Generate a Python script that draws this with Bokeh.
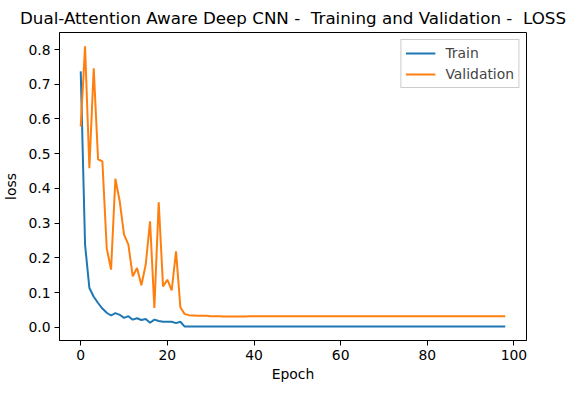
from bokeh.plotting import figure
from bokeh.models import Legend, LegendItem, Range1d, FixedTicker, NumeralTickFormatter
from bokeh.embed import file_html
from bokeh.resources import INLINE

train = [0.737, 0.238, 0.113, 0.088, 0.07, 0.054, 0.042, 0.034, 0.041, 0.036,
         0.027, 0.032, 0.022, 0.026, 0.021, 0.024, 0.013, 0.022, 0.018, 0.016,
         0.016, 0.016, 0.012, 0.016] + [0.002] * 75
validation = [0.578, 0.809, 0.458, 0.746, 0.484, 0.478, 0.228, 0.166, 0.428, 0.363,
              0.267, 0.238, 0.147, 0.171, 0.121, 0.18, 0.305, 0.056, 0.36, 0.118,
              0.137, 0.106, 0.219, 0.058, 0.038, 0.035, 0.034, 0.033, 0.033, 0.033,
              0.032, 0.032, 0.032, 0.031, 0.031, 0.031, 0.031, 0.031, 0.031, 0.032] + [0.032] * 59
epochs = list(range(len(train)))

x_ticks = [0, 20, 40, 60, 80, 100]
y_ticks = [0.0, 0.1, 0.2, 0.3, 0.4, 0.5, 0.6, 0.7, 0.8]

FONT = "DejaVu Sans"
FS = "13.9px"

p = figure(frame_width=467, frame_height=308, output_backend="svg", toolbar_location=None,
           x_range=Range1d(-4.9, 102.9), y_range=Range1d(-0.038, 0.849),
           min_border_left=52, min_border_right=40, min_border_top=24, min_border_bottom=45)

p.title.text = "Dual-Attention Aware Deep CNN -\u00a0 Training and Validation -\u00a0 LOSS"
p.title.align = "center"
p.title.text_font = FONT
p.title.text_font_size = "16.7px"
p.title.text_font_style = "normal"
p.title.text_color = "black"

p.grid.visible = False
p.outline_line_color = "black"
p.outline_line_width = 1

for ax in (p.xaxis[0], p.yaxis[0]):
    ax.major_label_text_font = FONT
    ax.major_label_text_font_size = FS
    ax.major_label_text_color = "black"
    ax.axis_label_text_font = FONT
    ax.axis_label_text_font_size = FS
    ax.axis_label_text_font_style = "normal"
    ax.axis_label_text_color = "black"
    ax.major_tick_out = 5
    ax.major_tick_in = 0
    ax.minor_tick_out = 0
    ax.minor_tick_in = 0
    ax.axis_line_color = "black"
    ax.major_tick_line_color = "black"
    ax.major_label_standoff = 4

p.xaxis.ticker = FixedTicker(ticks=x_ticks)
p.yaxis.ticker = FixedTicker(ticks=y_ticks)
p.yaxis.formatter = NumeralTickFormatter(format="0.0")
p.xaxis.axis_label = "Epoch"
p.yaxis.axis_label = "loss"
p.xaxis.axis_label_standoff = 3
p.yaxis.axis_label_standoff = 6

r1 = p.line(epochs, train, line_color="#1f77b4", line_width=2)
r2 = p.line(epochs, validation, line_color="#ff7f0e", line_width=2)

legend = Legend(items=[LegendItem(label="Train", renderers=[r1]),
                       LegendItem(label="Validation", renderers=[r2])],
                location="top_right")
legend.label_text_font = FONT
legend.label_text_font_size = FS
legend.border_line_color = "#cccccc"
legend.border_line_alpha = 1
legend.background_fill_alpha = 0.8
legend.glyph_width = 30
legend.glyph_height = 18
legend.label_height = 18
legend.spacing = 3
legend.padding = 4
legend.margin = 7
legend.label_standoff = 10
p.add_layout(legend)

open("out.html", "w").write(file_html(p, INLINE))
